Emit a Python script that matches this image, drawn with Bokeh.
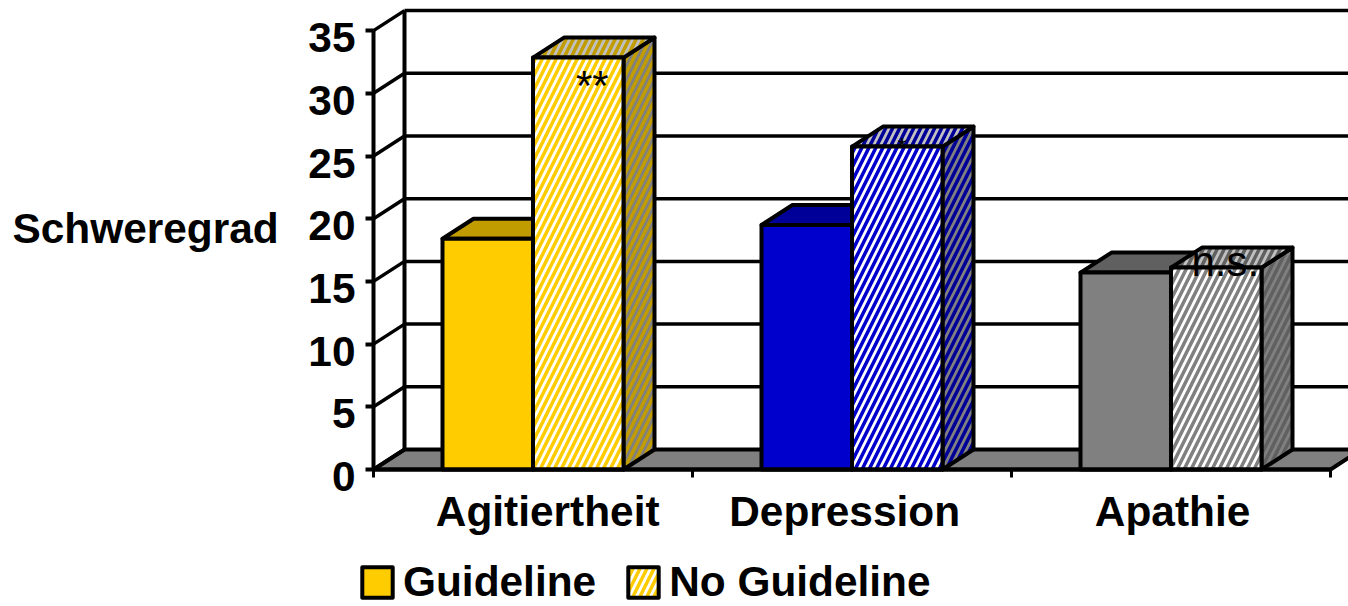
from bokeh.plotting import figure
from bokeh.models import Range1d, LinearAxis, FixedTicker, Label, Legend, LegendItem
from bokeh.core.properties import value
from bokeh.embed import file_html
from bokeh.resources import INLINE

categories = ["Agitiertheit", "Depression", "Apathie"]
guideline = [18.4, 19.5, 15.7]
no_guideline = [32.85, 25.75, 16.1]
y_ticks = [0, 5, 10, 15, 20, 25, 30, 35]
series_names = ["Guideline", "No Guideline"]
notes = ["**", "*", "n.s."]

front = ["#FFCC00", "#0000CC", "#808080"]
dark = ["#C09C00", "#000099", "#606060"]

FONT = "Liberation Sans"
SIZE = "42.4px"
W, H = 1348, 606
X0, Y0 = 373, 469            # pixel position of the chart origin
PX_PER_CAT = 319.0
PX_PER_UNIT = 12.54
DX = 31 / PX_PER_CAT
DY = 20 / PX_PER_UNIT
BAR = 90.5 / PX_PER_CAT
XMAX = (W - X0) / PX_PER_CAT
YMAX = Y0 / PX_PER_UNIT
LABEL_SHIFT = 7 / PX_PER_UNIT

p = figure(width=W, height=H, output_backend="svg", toolbar_location=None,
           x_range=Range1d(-X0 / PX_PER_CAT, XMAX), y_range=Range1d(-(H - Y0) / PX_PER_UNIT, YMAX),
           x_axis_type=None, y_axis_type=None,
           min_border_left=0, min_border_bottom=0, min_border_top=0, min_border_right=0)
p.outline_line_color = None
p.grid.visible = False
p.background_fill_color = "white"

OUT = dict(line_color="black", line_width=4, line_join="round")

# floor
p.patch([0, DX, 3 + DX, 3], [0, DY, DY, 0], fill_color="#808080", **OUT)
# gridlines on back wall and side wall
for v in y_ticks[1:]:
    p.line([DX, XMAX], [v + DY, v + DY], line_color="black", line_width=3.5)
for v in y_ticks:
    p.line([0, DX], [v, v + DY], line_color="black", line_width=3.5)
p.line([DX, DX], [DY, 35 + DY], line_color="black", line_width=4)

# bars
HATCH = dict(hatch_pattern="right_diagonal_line", hatch_scale=14, hatch_weight=3.5)
first_solid = None
first_hatch = None
for i in range(3):
    left = i + 0.5 - BAR
    mid = i + 0.5
    right = i + 0.5 + BAR
    g, n = guideline[i], no_guideline[i]
    p.patch([mid, mid + DX, mid + DX, mid], [0, DY, g + DY, g], fill_color=dark[i], **OUT)
    p.patch([left, left + DX, mid + DX, mid], [g, g + DY, g + DY, g], fill_color=dark[i], **OUT)
    r1 = p.quad(left=left, right=mid, bottom=0, top=g, fill_color=front[i], **OUT)
    p.patch([right, right + DX, right + DX, right], [0, DY, n + DY, n],
            fill_color="#808080", hatch_color=dark[i], **HATCH, **OUT)
    p.patch([mid, mid + DX, right + DX, right], [n, n + DY, n + DY, n],
            fill_color="#C0C0C0", hatch_color=dark[i], **HATCH, **OUT)
    r2 = p.quad(left=mid, right=right, bottom=0, top=n,
                fill_color="white", hatch_color=front[i], **HATCH, **OUT)
    if i == 0:
        first_solid, first_hatch = r1, r2

BOLD = dict(major_label_text_font=FONT, major_label_text_font_size=SIZE,
            major_label_text_font_style="bold", major_label_text_color="black")

# y axis: line and tick marks
yax = LinearAxis(ticker=FixedTicker(ticks=y_ticks), fixed_location=0, bounds=(0, 35),
                 axis_line_color="black", axis_line_width=4,
                 major_tick_line_color="black", major_tick_line_width=4, major_tick_out=8, major_tick_in=0,
                 minor_tick_line_color=None, major_label_overrides={v: "" for v in y_ticks})
p.add_layout(yax, "left")
# y axis tick labels, which sit a little below their tick marks
ylab_ticks = [v - LABEL_SHIFT for v in y_ticks]
ylab = LinearAxis(ticker=FixedTicker(ticks=ylab_ticks), fixed_location=0,
                  axis_line_color=None, major_tick_line_color=None, minor_tick_line_color=None,
                  major_label_standoff=12,
                  major_label_overrides={t: str(v) for t, v in zip(ylab_ticks, y_ticks)}, **BOLD)
p.add_layout(ylab, "left")

# x axis: line and category boundary ticks
xax = LinearAxis(ticker=FixedTicker(ticks=[0, 1, 2, 3]), fixed_location=0, bounds=(0, 3),
                 axis_line_color="black", axis_line_width=4,
                 major_tick_line_color="black", major_tick_line_width=3, major_tick_out=8, major_tick_in=0,
                 minor_tick_line_color=None, major_label_overrides={v: "" for v in [0, 1, 2, 3]})
p.add_layout(xax, "below")
cat_ticks = [0.546, 1.477, 2.505]
xlab = LinearAxis(ticker=FixedTicker(ticks=cat_ticks), fixed_location=0,
                  axis_line_color=None, major_tick_line_color=None, minor_tick_line_color=None,
                  major_label_standoff=12,
                  major_label_overrides=dict(zip(cat_ticks, categories)), **BOLD)
p.add_layout(xlab, "below")

p.add_layout(Label(x=12, y=H - 228, x_units="screen", y_units="screen", text="Schweregrad",
                   text_align="left", text_baseline="middle", text_font=FONT,
                   text_font_style="bold", text_font_size=SIZE, text_color="black"))

# significance notes
note_x = [0.5 + BAR / 2 + 14 / PX_PER_CAT, 1.5 + BAR / 2 + 5 / PX_PER_CAT, 2.5 + BAR / 2 + 9 / PX_PER_CAT]
note_y = [no_guideline[0] - 2.2, no_guideline[1] + 0.0, no_guideline[2] + 0.45]
note_size = ["42px", "24px", "42px"]
p.text(x=note_x, y=note_y, text=notes, text_font=value(FONT), text_font_size=note_size,
       text_align="center", text_baseline="middle", text_color="black")

legend = Legend(items=[LegendItem(label=series_names[0], renderers=[first_solid]),
                       LegendItem(label=series_names[1], renderers=[first_hatch])],
                orientation="horizontal", location=(358, 0),
                glyph_width=38, glyph_height=38, label_standoff=7, spacing=28, padding=0, margin=0,
                border_line_color=None, background_fill_color=None, background_fill_alpha=0,
                label_text_font=FONT, label_text_font_size=SIZE, label_text_font_style="bold",
                label_text_color="black", label_height=38)
p.add_layout(legend, "center")

open("out.html", "w").write(file_html(p, INLINE))
